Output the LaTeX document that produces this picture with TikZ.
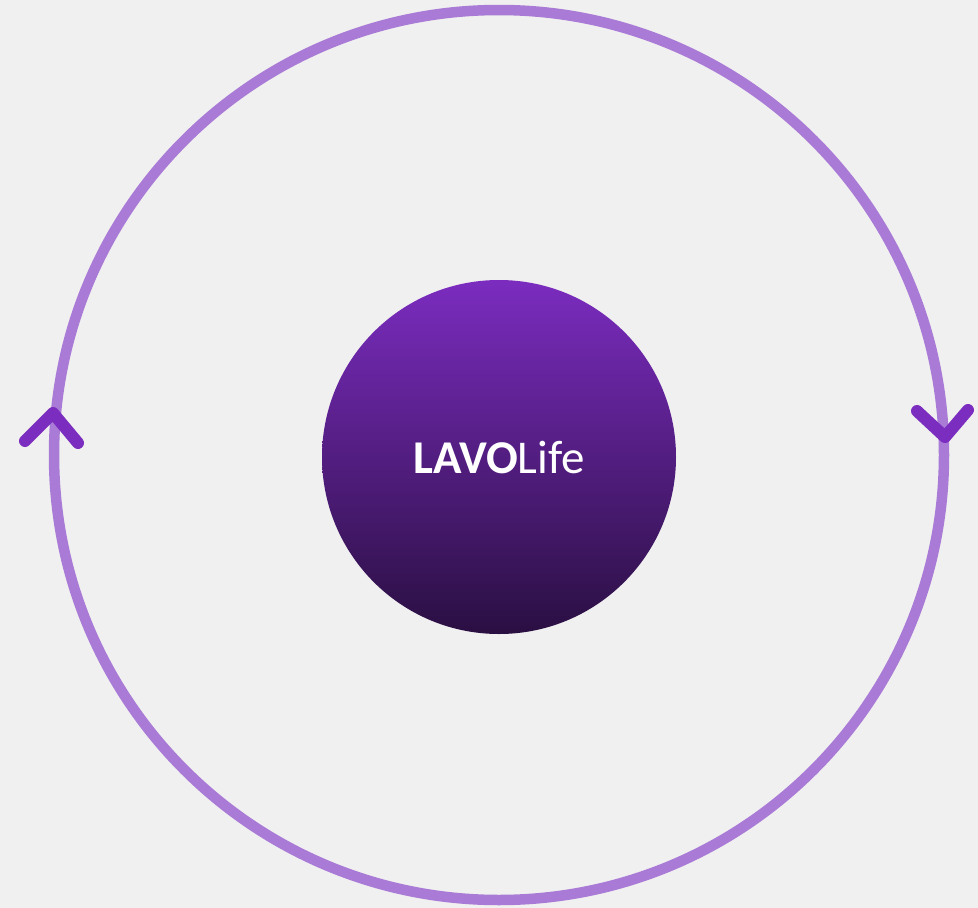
\documentclass[tikz,border=0pt]{standalone}
\usepackage{fontspec}
\setmainfont{Carlito}
\begin{document}
\begin{tikzpicture}[x=1pt,y=-1pt,
  ring/.style={draw=ringc, line width=10.5pt},
  chev/.style={draw=chevc, line width=12pt, line cap=round, line join=round},
  hub/.style={circle, minimum size=354pt, inner sep=0pt, top color=hubtop, bottom color=hubbot, text=white, font=\fontsize{47}{54}\selectfont}]
\definecolor{bgc}{HTML}{F0F0F0}
\definecolor{ringc}{HTML}{A97AD6}
\definecolor{chevc}{HTML}{7A2DBE}
\definecolor{hubtop}{HTML}{7B2CBF}
\definecolor{hubbot}{HTML}{2A0F42}
\fill[bgc] (0,0) rectangle (978,908);
\useasboundingbox (0,0) rectangle (978,908);
\coordinate (c) at (499,455);
\draw[ring] (c) circle[radius=445];
\node[hub] (hub) at (499,457) {\textbf{LAVO}Life};
\coordinate (la) at (25,441);
\coordinate (lp) at (53,413);
\coordinate (lb) at (78,443);
\draw[chev] (la) -- (lp) -- (lb);
\coordinate (ra) at (917,411);
\coordinate (rp) at (945,437);
\coordinate (rb) at (968,410);
\draw[chev] (ra) -- (rp) -- (rb);
\end{tikzpicture}
\end{document}
